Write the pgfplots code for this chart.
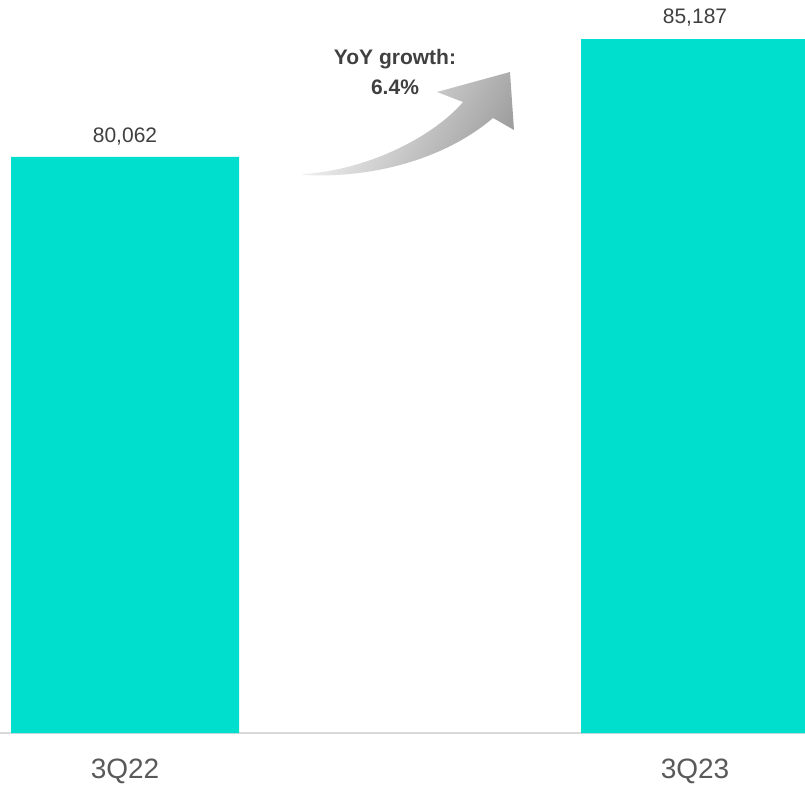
\documentclass[border=0pt]{standalone}
\usepackage{fontspec}
\setmainfont{Liberation Sans}
\usepackage{pgfplots}
\pgfplotsset{compat=1.18}
\definecolor{barc}{RGB}{0,222,206}
\definecolor{txt}{RGB}{64,64,64}
\definecolor{tickc}{RGB}{89,89,89}
\definecolor{basec}{RGB}{217,217,217}
\begin{document}
\begin{tikzpicture}
\useasboundingbox (0pt,0pt) rectangle (805pt,785pt);
\begin{axis}[
  at={(0pt,52pt)}, anchor=south west,
  scale only axis, width=805pt, height=733pt,
  xmin=-0.21930, xmax=1.19298, ymin=55000, ymax=86893,
  axis x line*=bottom, axis y line=none,
  axis line style={basec, line width=1.5pt},
  xtick={0,1}, xticklabels={3Q22,3Q23}, major tick length=0pt,
  xticklabel style={font=\fontsize{28}{32}\selectfont, text=tickc, anchor=base, yshift=-45pt},
  ytick=\empty,
  ybar, bar width=228pt, bar shift=0pt,
]
\addplot[fill=barc, draw=none] coordinates {(0,80062) (1,85187)};
\coordinate (l1) at (axis cs:0,80062);
\coordinate (l2) at (axis cs:1,85187);
\end{axis}
\node[anchor=base, font=\fontsize{21}{25}\selectfont, text=txt, inner sep=0pt] at ([yshift=14pt]l1) {80,062};
\node[anchor=base, font=\fontsize{21}{25}\selectfont, text=txt, inner sep=0pt] at ([yshift=16pt]l2) {85,187};
% curved growth arrow
\shade[left color=gray!5, right color=gray!75, shading angle=60]
  (303pt,610pt) .. controls (380pt,606pt) and (450pt,630pt) .. (493pt,667pt)
  -- (514pt,655pt) -- (510pt,713pt) -- (437pt,693pt) -- (463pt,683pt)
  .. controls (435pt,650pt) and (370pt,615pt) .. (303pt,611pt) -- cycle;
\node[anchor=base, font=\bfseries\fontsize{21}{25}\selectfont, text=txt, inner sep=0pt] at (395pt,720pt) {YoY growth:};
\node[anchor=base, font=\bfseries\fontsize{21}{25}\selectfont, text=txt, inner sep=0pt] at (395pt,690pt) {6.4\%};
\end{tikzpicture}
\end{document}
